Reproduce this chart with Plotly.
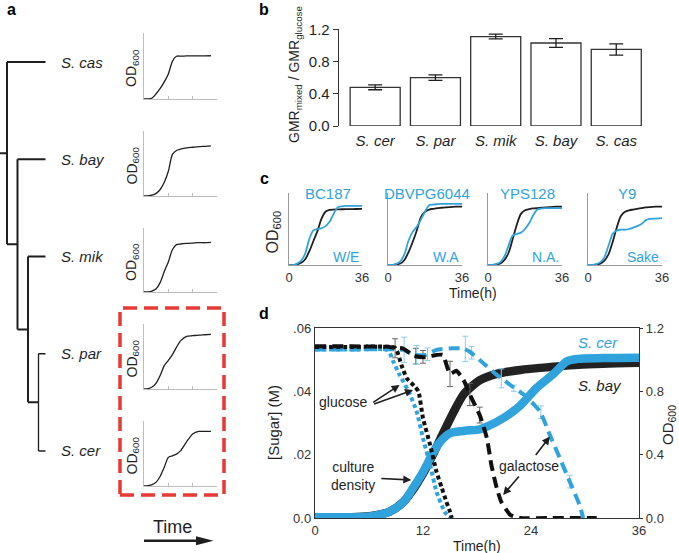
import plotly.graph_objects as go

W, H = 679, 553
FONT = "Liberation Sans, Arial, Helvetica, sans-serif"
BLUE = "#31a3dc"
BLUE_LIGHT = "#8ccbea"
INK = "#1f1f1f"
AXG = "#9a9a9a"
AXG_A = "#bdbdbd"
RED = "#e63a35"

# ======================= DATA =======================
# (a) phylogeny: (split depth, line width, children)
leaves = ["S. cas", "S. bay", "S. mik", "S. par", "S. cer"]
tree = (1.0, 2.0, ["S. cas", (2.5, 2.0, ["S. bay", (4.0, 2.0, ["S. mik", (5.5, 1.3, ["S. par", "S. cer"])])])])
leaf_depth = 6.5

# (a) growth curves in mixed sugars
a_time = [0, 2, 4, 6, 8, 10, 12, 14, 16, 18, 21, 24, 27, 30, 33]
a_od_cas = [0, 0.002, 0.015, 0.08, 0.16, 0.26, 0.38, 0.57, 0.648, 0.65, 0.652, 0.653, 0.654, 0.654, 0.655]
a_od_bay = [0, 0.002, 0.012, 0.04, 0.10, 0.21, 0.38, 0.64, 0.70, 0.72, 0.74, 0.75, 0.76, 0.765, 0.77]
a_od_mik = [0, 0.003, 0.015, 0.05, 0.15, 0.32, 0.47, 0.66, 0.74, 0.75, 0.76, 0.765, 0.77, 0.77, 0.775]
a_od_par = [0, 0.005, 0.03, 0.09, 0.21, 0.36, 0.44, 0.53, 0.64, 0.74, 0.81, 0.82, 0.83, 0.835, 0.84]
a_od_cer = [0, 0.005, 0.02, 0.06, 0.15, 0.29, 0.44, 0.465, 0.49, 0.54, 0.68, 0.80, 0.84, 0.84, 0.84]
a_curves = [a_od_cas, a_od_bay, a_od_mik, a_od_par, a_od_cer]

# (b) GMR ratio
b_species = ["S. cer", "S. par", "S. mik", "S. bay", "S. cas"]
b_ratio = [0.48, 0.60, 1.11, 1.03, 0.95]
b_err = [0.03, 0.035, 0.03, 0.055, 0.07]
b_ticks = [0.0, 0.4, 0.8, 1.2]

# (c) natural isolates
c_strains = ["BC187", "DBVPG6044", "YPS128", "Y9"]
c_origins = ["W/E", "W.A", "N.A.", "Sake"]
c_time = [0, 3, 6, 8, 10, 12, 14, 16, 18, 20, 22, 24, 26, 28, 30, 33, 36]
c_black_bc187 = [0, 0.003, 0.03, 0.08, 0.19, 0.33, 0.47, 0.64, 0.74, 0.765, 0.77, 0.772, 0.774, 0.775, 0.776, 0.778, 0.78]
c_blue_bc187 = [0, 0.005, 0.06, 0.16, 0.36, 0.48, 0.50, 0.51, 0.54, 0.60, 0.71, 0.80, 0.815, 0.82, 0.82, 0.82, 0.82]
c_black_dbvpg = [0, 0.003, 0.02, 0.07, 0.18, 0.32, 0.48, 0.66, 0.74, 0.77, 0.78, 0.79, 0.795, 0.80, 0.805, 0.81, 0.81]
c_blue_dbvpg = [0, 0.005, 0.05, 0.15, 0.34, 0.46, 0.53, 0.63, 0.74, 0.83, 0.84, 0.845, 0.85, 0.85, 0.85, 0.85, 0.85]
c_black_yps = [0, 0.003, 0.02, 0.07, 0.17, 0.36, 0.56, 0.71, 0.76, 0.775, 0.785, 0.79, 0.795, 0.80, 0.805, 0.81, 0.81]
c_blue_yps = [0, 0.004, 0.04, 0.12, 0.27, 0.41, 0.43, 0.45, 0.50, 0.58, 0.69, 0.77, 0.785, 0.79, 0.79, 0.79, 0.79]
c_black_y9 = [0, 0.003, 0.02, 0.06, 0.15, 0.32, 0.52, 0.68, 0.74, 0.76, 0.77, 0.78, 0.79, 0.80, 0.805, 0.81, 0.81]
c_blue_y9 = [0, 0.004, 0.04, 0.11, 0.27, 0.43, 0.48, 0.49, 0.49, 0.50, 0.52, 0.54, 0.57, 0.62, 0.64, 0.645, 0.65]
c_black = [c_black_bc187, c_black_dbvpg, c_black_yps, c_black_y9]
c_blue = [c_blue_bc187, c_blue_dbvpg, c_blue_yps, c_blue_y9]

# (d) sugars and culture density
od_bay_time = [0, 4, 6.1, 8.3, 9.8, 10.9, 12.0, 13.1, 14.1, 15.4, 16.5, 17.2, 18.3, 20.2, 22.8, 26.5, 29.2, 32, 36]
od_bay = [0.005, 0.005, 0.012, 0.04, 0.10, 0.18, 0.28, 0.40, 0.52, 0.67, 0.78, 0.82, 0.87, 0.91, 0.935, 0.955, 0.968, 0.975, 0.98]
od_cer_time = [0, 4, 6.1, 8.3, 9.8, 10.9, 12.0, 13.1, 13.9, 15.0, 16.5, 18.3, 19.1, 20.9, 22.8, 24.6, 26.5, 28.0, 29.2, 32, 36]
od_cer = [0.005, 0.005, 0.01, 0.04, 0.10, 0.19, 0.29, 0.41, 0.48, 0.535, 0.55, 0.56, 0.577, 0.63, 0.71, 0.82, 0.91, 0.99, 1.005, 1.01, 1.012]

glc_bay_time = [0, 4, 8.9, 9.6, 10.2, 11.1, 11.5, 12.0, 12.8, 13.5, 14.1, 14.6, 15.0, 15.2]
glc_bay = [0.0540, 0.0540, 0.0537, 0.0483, 0.0441, 0.0415, 0.0399, 0.0315, 0.023, 0.0146, 0.0094, 0.0051, 0.002, 0.0]
glc_cer_time = [0, 4, 8.1, 8.7, 9.4, 10.4, 11.3, 12.0, 12.8, 13.5, 14.4, 15.0]
glc_cer = [0.0532, 0.0532, 0.053, 0.0494, 0.0452, 0.040, 0.0336, 0.0252, 0.0167, 0.0083, 0.002, 0.0]

gal_bay_time = [0, 4, 8, 9.8, 11, 12.3, 13.5, 14.2, 15.0, 15.7, 16.5, 17.2, 18.3, 19.1, 19.6, 20.2, 20.7, 21.7, 22.8, 26, 31.3]
gal_bay = [0.0542, 0.0542, 0.054, 0.0535, 0.0512, 0.0508, 0.0515, 0.0515, 0.0455, 0.0465, 0.0436, 0.0390, 0.0325, 0.0252, 0.0167, 0.0094, 0.0051, 0.001, 0.0, 0.0, 0.0]
gal_cer_time = [0, 4, 9.8, 11, 12.3, 13.5, 15.4, 16.5, 17.2, 18.7, 20.2, 21.7, 23.5, 25.0, 26.1, 27.2, 28.3, 29.4, 29.8]
gal_cer = [0.0532, 0.0532, 0.0531, 0.0515, 0.0515, 0.0531, 0.0536, 0.0535, 0.0525, 0.0489, 0.0452, 0.042, 0.0383, 0.0336, 0.0262, 0.0189, 0.0115, 0.0041, 0.0]

gal_bay_err_t = [8.9, 11.2, 12.0, 15.0, 17.2, 18.3]
gal_bay_err_y = [0.0536, 0.0511, 0.0509, 0.0455, 0.0390, 0.0325]
gal_bay_err = [0.003, 0.0025, 0.002, 0.004, 0.0035, 0.0025]
gal_cer_err_t = [9.9, 11.3, 12.5, 16.7, 17.4, 20.7, 22.1, 25.1, 28.3]
gal_cer_err_y = [0.0531, 0.0515, 0.0517, 0.0534, 0.0522, 0.0441, 0.0410, 0.0334, 0.0115]
gal_cer_err = [0.004, 0.003, 0.002, 0.004, 0.002, 0.003, 0.001, 0.002, 0.002]

# ======================= FIGURE =======================
fig = go.Figure()
axes = {}
annots = []
shapes = []


def px_x(p):
    return p / W


def px_y(p):
    return 1 - p / H


def make_axes(n, xpx, ypx, xkw, ykw):
    xa = "xaxis" if n == 1 else f"xaxis{n}"
    ya = "yaxis" if n == 1 else f"yaxis{n}"
    xr = "x" if n == 1 else f"x{n}"
    yr = "y" if n == 1 else f"y{n}"
    base = dict(showgrid=False, zeroline=False, fixedrange=True, automargin=False)
    axes[xa] = dict(base, domain=[px_x(xpx[0]), px_x(xpx[1])], anchor=yr, **xkw)
    axes[ya] = dict(base, domain=[px_y(ypx[1]), px_y(ypx[0])], anchor=xr, **ykw)
    return xr, yr


def text(x, y, s, size=14, color=INK, xref="paper", yref="paper", xanchor="center",
         yanchor="middle", **kw):
    if xref == "paper":
        x = px_x(x)
    if yref == "paper":
        y = px_y(y)
    annots.append(dict(x=x, y=y, xref=xref, yref=yref, text=s, showarrow=False,
                       xanchor=xanchor, yanchor=yanchor,
                       font=dict(family=FONT, size=size, color=color), **kw))


# ---------- panel a: tree ----------
tx, ty = make_axes(1, (0, 98), (13.4, 499.6), dict(range=[0, 14], visible=False),
                   dict(range=[4.5, -0.5], visible=False))
segs = {}


def add_seg(w, x0, x1, y0, y1):
    xs, ys = segs.setdefault(w, ([], []))
    xs += [x0, x1, None]
    ys += [y0, y1, None]


def draw(node):
    if isinstance(node, str):
        return leaves.index(node), leaf_depth
    depth, w, children = node
    info = [draw(c) for c in children]
    cys = [i[0] for i in info]
    add_seg(w, depth, depth, min(cys), max(cys))
    for cy, cd in info:
        add_seg(w, depth, cd, cy, cy)
    return sum(cys) / len(cys), depth


root_y, root_d = draw(tree)
add_seg(tree[1], 0, root_d, root_y, root_y)
for w, (xs, ys) in segs.items():
    fig.add_trace(go.Scatter(x=xs, y=ys, mode="lines", xaxis=tx, yaxis=ty,
                             line=dict(color=INK, width=w), hoverinfo="skip"))
for i, name in enumerate(leaves):
    text(leaf_depth + 1.9, i, f"<i>{name}</i>", size=15, xref=tx, yref=ty, xanchor="left")

# ---------- panel a: mini growth curves ----------
a_rows = [(33, 99), (131, 196), (228, 292), (324, 389), (421, 486)]
for k, (top, bot) in enumerate(a_rows):
    xr, yr = make_axes(2 + k, (144, 217), (top, bot),
                       dict(range=[0, 36], showline=True, linecolor=AXG_A, linewidth=1,
                            ticks="inside", ticklen=3, tickcolor=AXG_A, tickvals=[12, 24, 36],
                            showticklabels=False),
                       dict(range=[0, 1], showline=True, linecolor=AXG_A, linewidth=1,
                            ticks="", showticklabels=False))
    fig.add_trace(go.Scatter(x=a_time, y=a_curves[k], mode="lines", xaxis=xr, yaxis=yr,
                             line=dict(color=INK, width=1.3, shape="spline", smoothing=0.7),
                             hoverinfo="skip"))
    text(132, (top + bot) / 2 + 2, "OD<sub>600</sub>", size=14, textangle=-90)

shapes.append(dict(type="rect", xref="paper", yref="paper", x0=px_x(120), x1=px_x(224),
                   y0=px_y(495), y1=px_y(308), line=dict(color=RED, width=3.5, dash="14px,7px")))
text(172.5, 527, "Time", size=18)
shapes.append(dict(type="line", xref="paper", yref="paper", x0=px_x(144), x1=px_x(200),
                   y0=px_y(540.7), y1=px_y(540.7), line=dict(color=INK, width=2.5)))
shapes.append(dict(type="path", xref="paper", yref="paper", fillcolor=INK, line=dict(width=0),
                   path=f"M{px_x(196)},{px_y(536.2)} L{px_x(213.5)},{px_y(540.7)} L{px_x(196)},{px_y(545.2)} Z"))

# ---------- panel b ----------
bx, by = make_axes(7, (339, 646.4), (29.3, 126),
                   dict(range=[-0.6, 4.5], tickvals=list(range(len(b_species))),
                        ticktext=[f"<i>{s}</i>" for s in b_species], ticks="", showline=False,
                        tickfont=dict(size=15, color=INK), ticklabelstandoff=4),
                   dict(range=[0, 1.2], tickvals=b_ticks, ticktext=[f"{v:.1f}" for v in b_ticks],
                        ticks="outside", ticklen=5, tickcolor="#333", showline=True,
                        linecolor="#333", linewidth=1.3, tickfont=dict(size=15, color=INK)))
fig.add_trace(go.Bar(x=list(range(len(b_species))), y=b_ratio, xaxis=bx, yaxis=by,
                     marker=dict(color="white", line=dict(color="#333", width=1.3)),
                     error_y=dict(type="data", array=b_err, color=INK, thickness=1.3, width=7),
                     width=0.83, hoverinfo="skip"))
text(295, 75, "GMR<sub>mixed</sub> / GMR<sub>glucose</sub>", size=14, textangle=-90)

# ---------- panel c ----------
c_cols = [(289, 362), (388, 462), (488, 562), (588, 662)]
for k, (x0, x1) in enumerate(c_cols):
    xr, yr = make_axes(8 + k, (x0, x1), (193, 265),
                       dict(range=[0, 36], tickvals=[0, 36], ticktext=["0", "36"], ticks="",
                            showline=True, linecolor=AXG, linewidth=1,
                            tickfont=dict(size=13, color="#333")),
                       dict(range=[0, 1], showline=True, linecolor=AXG, linewidth=1,
                            showticklabels=False, ticks=""))
    fig.add_trace(go.Scatter(x=c_time, y=c_black[k], mode="lines", xaxis=xr, yaxis=yr,
                             line=dict(color=INK, width=1.8, shape="spline", smoothing=0.8),
                             hoverinfo="skip"))
    fig.add_trace(go.Scatter(x=c_time, y=c_blue[k], mode="lines", xaxis=xr, yaxis=yr,
                             line=dict(color=BLUE, width=1.8, shape="spline", smoothing=0.8),
                             hoverinfo="skip"))
    text((x0 + x1) / 2 + 2, 193, c_strains[k], size=15, color=BLUE)
    text(x1 - 1, 257, c_origins[k], size=14, color=BLUE, xanchor="right")
text(272.5, 232, "OD<sub>600</sub>", size=16, textangle=-90)
text(473, 293, "Time(h)", size=14)

# ---------- panel d ----------
dx, dy_od = make_axes(12, (315, 639), (328, 518),
                      dict(range=[0, 36], tickvals=[0, 12, 24, 36], ticks="", showline=True,
                           mirror=True, linecolor="#333", linewidth=1.2,
                           tickfont=dict(size=13, color="#333")),
                      dict(range=[0, 1.2], side="right", tickvals=[0, 0.4, 0.8, 1.2],
                           ticktext=["0.0", "0.4", "0.8", "1.2"], ticks="outside", ticklen=3,
                           tickcolor="#333", showline=True, linecolor="#333", linewidth=1.2,
                           tickfont=dict(size=13, color="#333")))
axes["yaxis13"] = dict(overlaying="y12", side="left", anchor="x12", range=[0, 0.06],
                       tickvals=[0, 0.02, 0.04, 0.06], ticktext=["0.0", ".02", ".04", ".06"],
                       ticks="", showline=True, linecolor="#333", linewidth=1.2,
                       showgrid=False, zeroline=False, fixedrange=True, automargin=False,
                       tickfont=dict(size=13, color="#333"))
dy_s = "y13"

fig.add_trace(go.Scatter(x=od_bay_time, y=od_bay, mode="lines", xaxis=dx, yaxis=dy_od,
                         line=dict(color="#222", width=8.5, shape="spline", smoothing=0.8),
                         hoverinfo="skip"))
fig.add_trace(go.Scatter(x=od_cer_time, y=od_cer, mode="lines", xaxis=dx, yaxis=dy_od,
                         line=dict(color=BLUE, width=8.5, shape="spline", smoothing=0.8),
                         hoverinfo="skip"))

fig.add_trace(go.Scatter(x=gal_bay_err_t, y=gal_bay_err_y, mode="markers", xaxis=dx, yaxis=dy_s,
                         marker=dict(size=1, color="rgba(0,0,0,0)"),
                         error_y=dict(type="data", array=gal_bay_err, color="#666", thickness=1, width=3),
                         hoverinfo="skip"))
fig.add_trace(go.Scatter(x=gal_cer_err_t, y=gal_cer_err_y, mode="markers", xaxis=dx, yaxis=dy_s,
                         marker=dict(size=1, color="rgba(0,0,0,0)"),
                         error_y=dict(type="data", array=gal_cer_err, color=BLUE_LIGHT, thickness=1, width=3),
                         hoverinfo="skip"))
fig.add_trace(go.Scatter(x=gal_cer_time, y=gal_cer, mode="lines", xaxis=dx, yaxis=dy_s,
                         line=dict(color=BLUE, width=4, dash="11px,6px", shape="spline", smoothing=0.5),
                         hoverinfo="skip"))
fig.add_trace(go.Scatter(x=gal_bay_time, y=gal_bay, mode="lines", xaxis=dx, yaxis=dy_s,
                         line=dict(color="#111", width=4, dash="11px,6px", shape="spline", smoothing=0.5),
                         hoverinfo="skip"))
fig.add_trace(go.Scatter(x=glc_cer_time, y=glc_cer, mode="lines", xaxis=dx, yaxis=dy_s,
                         line=dict(color=BLUE, width=4, dash="4px,3px", shape="spline", smoothing=0.5),
                         hoverinfo="skip"))
fig.add_trace(go.Scatter(x=glc_bay_time, y=glc_bay, mode="lines", xaxis=dx, yaxis=dy_s,
                         line=dict(color="#111", width=4, dash="4px,3px", shape="spline", smoothing=0.5),
                         hoverinfo="skip"))


def arrow(x_head, y_head, x_tail, y_tail):
    annots.append(dict(x=x_head, y=y_head, ax=x_tail, ay=y_tail, xref=dx, yref=dy_s,
                       axref=dx, ayref=dy_s, text="", showarrow=True, arrowhead=2,
                       arrowsize=1, arrowwidth=1.6, arrowcolor=INK))


text(3.1, 0.0366, "glucose", size=14, xref=dx, yref=dy_s)
arrow(9.4, 0.0420, 6.3, 0.0362)
arrow(10.9, 0.0404, 6.4, 0.0358)
text(4.25, 0.0133, "culture<br>density", size=14, xref=dx, yref=dy_s)
arrow(10.7, 0.0120, 7.2, 0.0125)
text(23.8, 0.0164, "galactose", size=14, xref=dx, yref=dy_s)
arrow(20.9, 0.0073, 22.8, 0.0136)
arrow(26.1, 0.0257, 24.4, 0.0194)
text(31.4, 1.11, "<i>S. cer</i>", size=15, color=BLUE, xref=dx, yref=dy_od)
text(31.7, 0.84, "<i>S. bay</i>", size=15, xref=dx, yref=dy_od)

text(273, 423, "[Sugar] (M)", size=15, textangle=-90)
text(668, 425, "OD<sub>600</sub>", size=15, textangle=-90)
text(477, 546, "Time(h)", size=14)

# ---------- panel letters ----------
for s, x, y in [("a", 11, 9), ("b", 264, 9), ("c", 264, 178), ("d", 264, 313)]:
    text(x, y, f"<b>{s}</b>", size=16, color="#000")

fig.update_layout(template="none", width=W, height=H,
                  margin=dict(l=0, r=0, t=0, b=0, pad=0, autoexpand=False),
                  paper_bgcolor="white", plot_bgcolor="white", showlegend=False,
                  font=dict(family=FONT, size=14, color=INK),
                  annotations=annots, shapes=shapes, **axes)
fig.write_html("out.html", config={"displayModeBar": False, "staticPlot": True},
               post_script="document.body.style.margin='0';document.body.style.overflow='hidden';")
